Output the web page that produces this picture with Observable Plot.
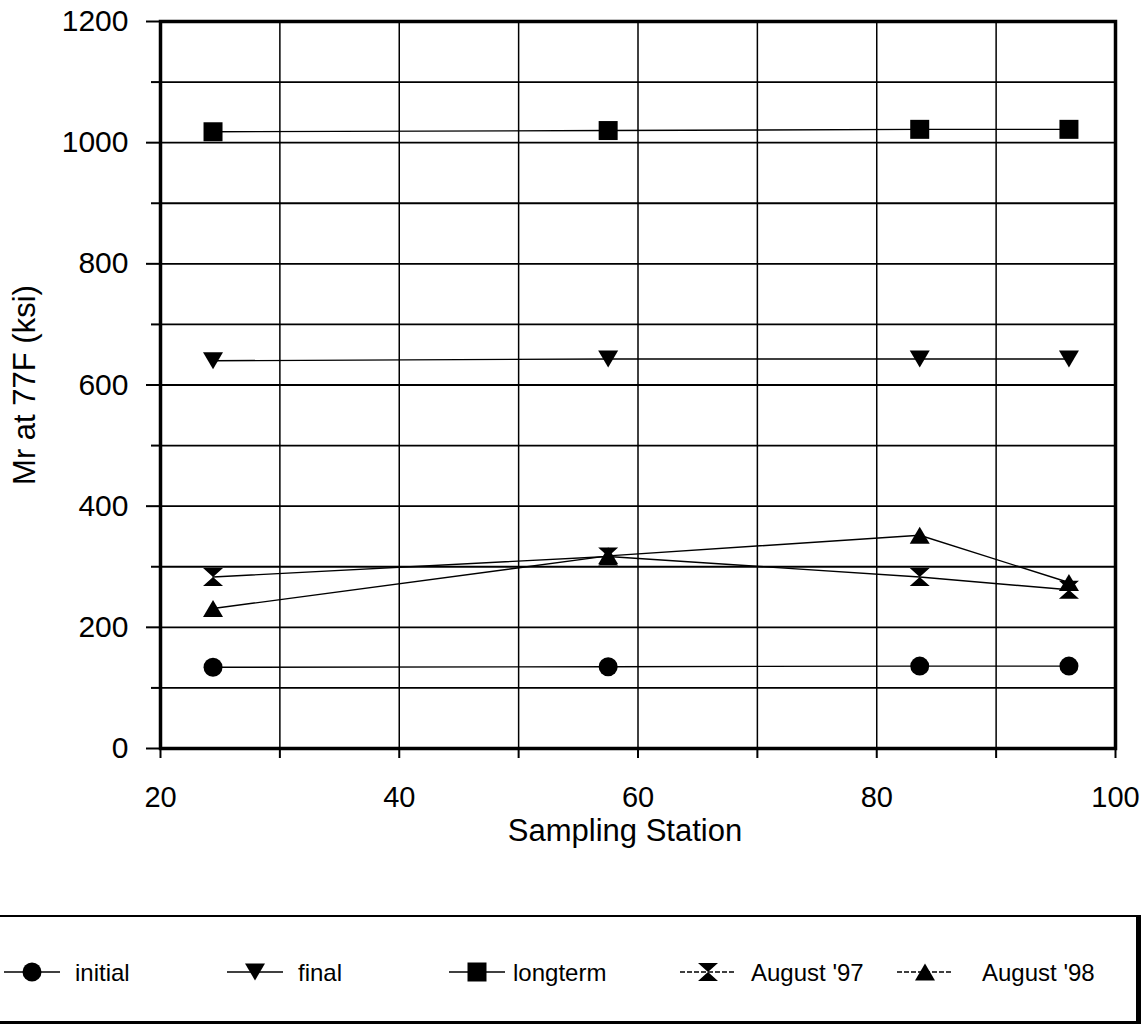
<!DOCTYPE html>
<html><head><meta charset="utf-8">
<script src="https://cdn.jsdelivr.net/npm/d3@7"></script>
<script src="https://cdn.jsdelivr.net/npm/@observablehq/plot@0.6"></script>
<style>
body{margin:0;background:#fff;font-family:"Liberation Sans",Arial,sans-serif;}
#wrap{position:relative;width:1146px;height:1028px;overflow:hidden;background:#fff;}
#chart{position:absolute;left:0;top:0;}
#legend{position:absolute;left:-3px;top:915px;width:1137px;height:104px;border-top:2px solid #000;border-left:2px solid #000;border-right:5px solid #000;border-bottom:3px solid #000;}
</style></head><body><div id="wrap"><div id="chart"></div><div id="legend"></div></div>
<script>
// ---- data ----
const stations = [24.4, 57.5, 83.6, 96.1];
const seriesNames = ["initial", "final", "longterm", "August '97", "August '98"];
const initial   = [134, 135, 136, 136];
const final     = [640, 643, 643, 643];
const longterm  = [1018, 1020, 1022, 1022];
const august97  = [283, 317, 283, 262];
const august98  = [231, 318, 352, 274];
const xTickLabels = [20, 40, 60, 80, 100];
const xMinorTicks = [30, 50, 70, 90];
const yTickLabels = [0, 200, 400, 600, 800, 1000, 1200];
const yMinorTicks = [100, 300, 500, 700, 900, 1100];
const xTitle = "Sampling Station";
const yTitle = "Mr at 77F (ksi)";

// ---- styles ----
const seriesValues = [initial, final, longterm, august97, august98];
const seriesShapes = ["circle", "down", "square", "hourglass", "up"];
const seriesR = [9.5, 10, 9.5, 10, 10];
const legendMarkerX = [32, 255, 477, 708, 925];
const legendTextX = [75, 298, 513, 751, 982];
const legendDash = [null, null, null, "5,2", "5,2"];

function shape(kind) {
  return {draw(ctx, size) {
    const r = Math.sqrt(size / Math.PI);
    const h = 0.85 * r;
    switch (kind) {
      case "circle": ctx.moveTo(r, 0); ctx.arc(0, 0, r, 0, 2 * Math.PI); break;
      case "square": ctx.rect(-r, -r, 2 * r, 2 * r); break;
      case "down": ctx.moveTo(-r, -h); ctx.lineTo(r, -h); ctx.lineTo(0, h); ctx.closePath(); break;
      case "up": ctx.moveTo(0, -h); ctx.lineTo(r, h); ctx.lineTo(-r, h); ctx.closePath(); break;
      case "hourglass":
        ctx.moveTo(-r, -0.9 * r); ctx.lineTo(r, -0.9 * r); ctx.lineTo(0, 0); ctx.closePath();
        ctx.moveTo(-r, 0.9 * r); ctx.lineTo(r, 0.9 * r); ctx.lineTo(0, 0); ctx.closePath();
        break;
    }
  }};
}

const rows = seriesNames.flatMap((name, s) =>
  stations.map((x, i) => ({series: name, x, y: seriesValues[s][i]})));

const fmt = d => String(d);

const plot = Plot.plot({
  width: 1146, height: 880,
  marginLeft: 160, marginRight: 31, marginTop: 21, marginBottom: 132,
  style: {fontFamily: "'Liberation Sans', Arial, sans-serif", fontSize: "30px", color: "black", background: "white"},
  x: {domain: [20, 100], label: null},
  y: {domain: [0, 1200], label: null},
  marks: [
    Plot.gridX(xMinorTicks.concat([40, 60, 80]), {stroke: "black", strokeOpacity: 1, strokeWidth: 1.5}),
    Plot.gridY(yMinorTicks.concat([200, 400, 600, 800, 1000]), {stroke: "black", strokeOpacity: 1, strokeWidth: 1.8}),
    Plot.axisX(xTickLabels, {tickSize: 10, tickPadding: 28, fontSize: 29, strokeWidth: 2, tickFormat: fmt, label: null}),
    Plot.axisX(xMinorTicks, {tickSize: 10, strokeWidth: 2, tickFormat: () => "", label: null}),
    Plot.axisY(yTickLabels, {tickSize: 14, tickPadding: 18, fontSize: 30, strokeWidth: 2, tickFormat: fmt, label: null}),
    Plot.axisY(yMinorTicks, {tickSize: 9, strokeWidth: 2, tickFormat: () => "", label: null}),
    Plot.frame({stroke: "black", strokeWidth: 3.5}),
    Plot.line(rows, {x: "x", y: "y", z: "series", stroke: "black", strokeWidth: 1.4}),
    ...seriesNames.map((name, s) =>
      Plot.dot(rows.filter(d => d.series === name), {x: "x", y: "y", r: seriesR[s], symbol: shape(seriesShapes[s]), fill: "black", stroke: "none"})),
    Plot.text([yTitle], {text: d => d, frameAnchor: "left", textAnchor: "middle", lineAnchor: "middle", rotate: -90, dx: -135, fontSize: 31, fill: "black"}),
    Plot.text([xTitle], {text: d => d, frameAnchor: "bottom", textAnchor: "middle", lineAnchor: "middle", dx: -13, dy: 83, fontSize: 31, fill: "black"})
  ]
});
document.getElementById("chart").appendChild(plot);

// ---- legend ----
const lsvg = d3.select("#legend").append("svg").attr("width", 1137).attr("height", 104)
  .style("display", "block");
const cy = 55;
seriesNames.forEach((name, s) => {
  const mx = legendMarkerX[s] + 1;
  lsvg.append("line").attr("x1", mx - 28).attr("x2", mx + 28).attr("y1", cy).attr("y2", cy)
    .attr("stroke", "black").attr("stroke-width", 1.6).attr("stroke-dasharray", legendDash[s]);
  const p = d3.path();
  const r = seriesR[s];
  shape(seriesShapes[s]).draw(p, Math.PI * r * r);
  lsvg.append("path").attr("d", p.toString()).attr("transform", `translate(${mx},${cy})`).attr("fill", "black");
  lsvg.append("text").attr("x", legendTextX[s] + 1).attr("y", cy + 8.5)
    .attr("font-size", 24).attr("font-family", "'Liberation Sans', Arial, sans-serif").attr("fill", "black").text(name);
});
</script></body></html>
